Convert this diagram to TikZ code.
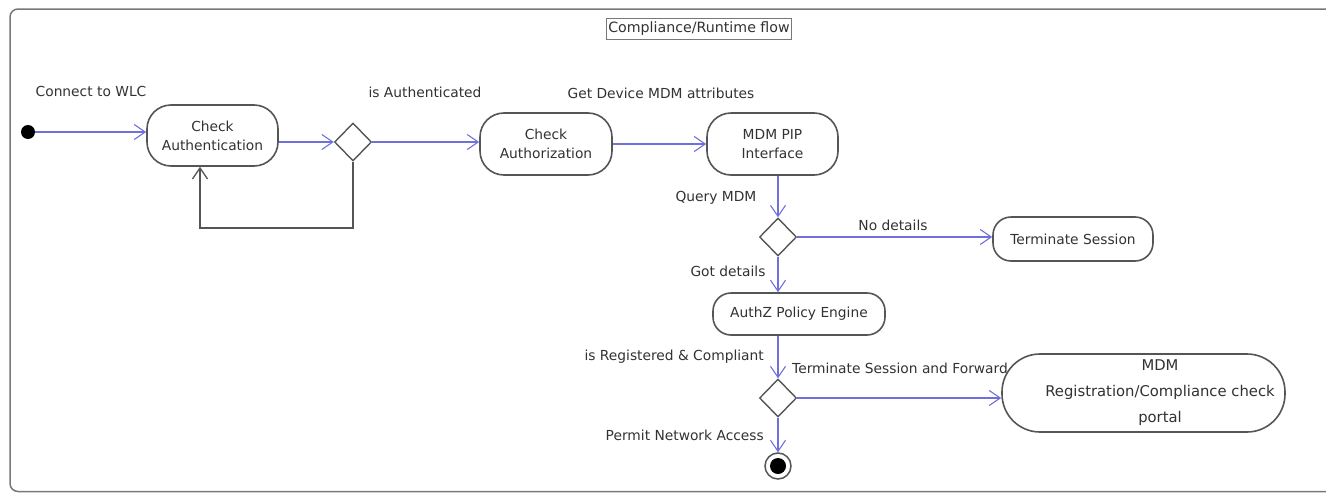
\documentclass[tikz,border=0pt]{standalone}
\usepackage{fontspec}
\setmainfont{DejaVu Sans}
\usetikzlibrary{shapes.geometric,arrows.meta}
\definecolor{flow}{RGB}{112,112,220}
\definecolor{txt}{RGB}{50,50,50}
\definecolor{bord}{RGB}{85,85,85}
\definecolor{frame}{RGB}{120,120,120}
\begin{document}
\begin{tikzpicture}[x=1pt,y=-1pt,
  every node/.style={font=\fontsize{13.8}{19}\selectfont, text=txt},
  act/.style={draw=bord, line width=1.6pt, rounded corners=24pt, align=center, inner sep=0pt},
  dec/.style={diamond, draw=bord, line width=1.4pt, minimum width=37pt, minimum height=38pt, inner sep=0pt},
  lbl/.style={inner sep=0pt},
  flowarrow/.style={draw=flow, line width=1.1pt, -{Straight Barb[length=11pt,width=15pt]}},
  backarrow/.style={draw=bord, line width=1.3pt, -{Straight Barb[length=11pt,width=15pt]}},
]
\clip (0,0) rectangle (1326,493);
\draw[draw=frame, line width=1.5pt, rounded corners=8pt] (10,9) rectangle (1360,491.5);

\node[draw=frame, line width=1.2pt, inner xsep=2pt, inner ysep=2pt, minimum height=21pt, font=\fontsize{14.2}{16}\selectfont] (title) at (699,29) {Compliance/Runtime flow};

% nodes
\node[circle, fill=black, minimum size=14pt, inner sep=0pt] (start) at (28,132) {};
\node[act, minimum width=131pt, minimum height=61pt] (ca) at (212.5,135.5) {Check\\Authentication};
\node[dec] (d1) at (353,142) {};
\node[act, minimum width=132pt, minimum height=62pt] (cz) at (546,144) {Check\\Authorization};
\node[act, minimum width=131pt, minimum height=62pt] (mdm) at (772.5,144) {MDM PIP\\Interface};
\node[dec] (d2) at (778,237) {};
\node[act, rounded corners=18pt, minimum width=160pt, minimum height=44pt] (term) at (1073,239) {Terminate Session};
\node[act, rounded corners=18pt, minimum width=172pt, minimum height=42pt] (authz) at (799,314) {AuthZ Policy Engine};
\node[dec] (d3) at (778,398) {};
\node[circle, draw=bord, line width=1.5pt, minimum size=26pt, inner sep=0pt,
      path picture={\fill[black] (path picture bounding box.center) circle (8pt);}] (final) at (778,466) {};

% labels
\node[lbl] (l1) at (91,91) {Connect to WLC};
\node[lbl] (l2) at (425,92) {is Authenticated};
\node[lbl] (l3) at (661,93) {Get Device MDM attributes};
\node[lbl] (l4) at (716,198) {Query MDM};
\node[lbl] (l5) at (893,225) {No details};
\node[lbl] (l6) at (728,271) {Got details};
\node[lbl, anchor=east] (l7) at (764,357) {is Registered \& Compliant};
\node[lbl, anchor=west] (l8) at (792,368) {Terminate Session and Forward};
\node[lbl, anchor=east] (l9) at (764,435) {Permit Network Access};

% portal drawn after its label so it covers the end of it
\node[act, fill=white, rounded corners=38pt, minimum width=283pt, minimum height=78pt] (portal) at (1143.5,393) {};
\node[lbl, align=center, font=\fontsize{14.8}{26}\selectfont] (portaltext) at (1160,393) {MDM\\Registration/Compliance check\\portal};

% connectors
\draw[flowarrow] (start) -- (start -| ca.west);
\draw[flowarrow] (d1.west -| ca.east) -- (d1.west);
\draw[flowarrow] (d1.east) -- (d1.east -| cz.west);
\coordinate (loop) at (200,228);
\draw[backarrow] (d1.south) |- (loop) -- (loop |- ca.south);
\draw[flowarrow] (cz.east) -- (mdm.west);
\draw[flowarrow] (d2.north |- mdm.south) -- (d2.north);
\draw[flowarrow] (d2.east) -- (d2.east -| term.west);
\draw[flowarrow] (d2.south) -- (d2.south |- authz.north);
\draw[flowarrow] (d3.north |- authz.south) -- (d3.north);
\draw[flowarrow] (d3.east) -- (d3.east -| portal.west);
\draw[flowarrow] (d3.south) -- (final);
\end{tikzpicture}
\end{document}
